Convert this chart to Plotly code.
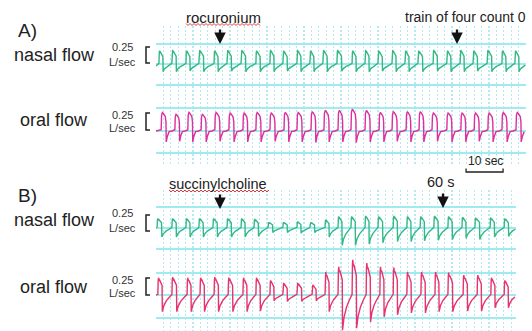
import plotly.graph_objects as go

W, H = 532, 331

# ---------------- data (time in s, flow in L/sec) ----------------
# Panel A
a_nasal_onset = [0.8, 4.3, 8.1, 11.6, 15.7, 19.2, 23.0, 27.0, 30.8, 34.3, 38.1, 41.6, 45.1, 48.9,
                 53.0, 56.5, 60.0, 63.8, 67.3, 70.8, 74.9, 78.6, 82.2, 85.7, 89.5, 93.5, 97.0]
a_nasal_peak = [0.21, 0.22, 0.21, 0.22, 0.21, 0.22, 0.22, 0.21, 0.22, 0.21, 0.22, 0.21, 0.22, 0.22,
                0.21, 0.22, 0.21, 0.22, 0.21, 0.21, 0.22, 0.21, 0.22, 0.21, 0.22, 0.21, 0.21]
a_nasal_trough = [-0.12, -0.12, -0.11, -0.12, -0.12, -0.11, -0.12, -0.12, -0.12, -0.11, -0.12, -0.12, -0.12, -0.11,
                  -0.12, -0.12, -0.11, -0.12, -0.12, -0.12, -0.11, -0.12, -0.12, -0.11, -0.12, -0.12, -0.12]

a_oral_onset = [1.4, 5.1, 8.6, 12.2, 15.9, 19.7, 23.5, 27.0, 30.8, 34.6, 38.1, 41.9, 45.4, 49.2,
                52.7, 56.5, 60.3, 63.8, 67.6, 71.1, 74.6, 78.6, 82.4, 86.0, 89.7, 93.5, 97.3]
a_oral_peak = [0.29, 0.26, 0.29, 0.26, 0.29, 0.28, 0.28, 0.29, 0.28, 0.29, 0.29, 0.30, 0.32, 0.32,
               0.34, 0.32, 0.29, 0.30, 0.30, 0.30, 0.28, 0.28, 0.28, 0.28, 0.28, 0.29, 0.29]
a_oral_trough = [-0.17, -0.16, -0.17, -0.17, -0.16, -0.17, -0.17, -0.17, -0.16, -0.17, -0.17, -0.18, -0.17, -0.17,
                 -0.18, -0.17, -0.17, -0.16, -0.17, -0.17, -0.16, -0.17, -0.17, -0.16, -0.17, -0.17, -0.17]

# Panel B
b_nasal_onset = [0.3, 4.3, 8.1, 11.6, 15.4, 19.2, 23.0, 26.5, 30.3, 34.3, 38.1, 41.6, 45.7,
                 49.2, 52.7, 56.5, 60.0, 64.1, 67.8, 71.4, 75.1, 78.9, 82.7, 86.2, 90.3, 94.1]
b_nasal_peak = [0.15, 0.15, 0.15, 0.15, 0.15, 0.15, 0.15, 0.14, 0.09, 0.09, 0.10, 0.09, 0.13,
                0.18, 0.18, 0.19, 0.18, 0.19, 0.18, 0.18, 0.19, 0.18, 0.17, 0.16, 0.16, 0.15]
b_nasal_trough = [-0.14, -0.14, -0.14, -0.14, -0.14, -0.14, -0.14, -0.13, -0.07, -0.07, -0.08, -0.07, -0.14,
                  -0.27, -0.27, -0.25, -0.23, -0.21, -0.21, -0.20, -0.19, -0.18, -0.16, -0.18, -0.14, -0.13]

b_oral_onset = [0.5, 4.3, 8.4, 11.9, 15.7, 19.5, 23.5, 27.0, 30.8, 34.3, 38.1, 42.2, 45.7,
                49.2, 53.0, 56.8, 60.5, 64.1, 67.8, 71.6, 75.4, 78.9, 83.0, 86.8, 90.5, 94.1]
b_oral_peak = [0.27, 0.28, 0.27, 0.27, 0.28, 0.27, 0.27, 0.27, 0.23, 0.19, 0.19, 0.16, 0.36,
               0.44, 0.55, 0.50, 0.44, 0.43, 0.36, 0.36, 0.36, 0.35, 0.31, 0.31, 0.27, 0.23]
b_oral_trough = [-0.26, -0.26, -0.26, -0.26, -0.26, -0.26, -0.26, -0.25, -0.09, -0.10, -0.10, -0.09, -0.26,
                 -0.55, -0.52, -0.42, -0.34, -0.31, -0.28, -0.28, -0.26, -0.26, -0.25, -0.25, -0.20, -0.20]

A_END, B_END = 100.0, 97.3

# ---------------- helpers ----------------
def px(x):
    return x / W


def py(y):
    return 1 - y / H


# breath shape: (fraction of period, reference, factor)
SAW = [(0.00, 'b', 0.01), (0.025, 'p', 0.85), (0.05, 'p', 1.0), (0.09, 'p', 0.82), (0.13, 'p', 0.86),
       (0.30, 'p', 0.55), (0.32, 'q', 1.0), (0.42, 'q', 0.65), (0.60, 'q', 0.35), (0.80, 'q', 0.15),
       (0.995, 'b', 0.01)]
PULSE = [(0.00, 'b', 0.02), (0.03, 'p', 0.85), (0.09, 'p', 1.0), (0.16, 'p', 0.95), (0.30, 'p', 0.78),
         (0.35, 'p', 0.5), (0.37, 'q', 1.0), (0.45, 'q', 0.5), (0.58, 'b', -0.01), (0.80, 'b', 0.0),
         (0.995, 'b', 0.02)]


def build(onsets, peaks, troughs, t_end, shape, start_val):
    xs, ys = [0.0], [start_val]
    n = len(onsets)
    for i in range(n):
        t0 = onsets[i]
        t1 = onsets[i + 1] if i + 1 < n else t0 + (t0 - onsets[i - 1])
        P = t1 - t0
        for f, ref, k in shape:
            t = t0 + f * P
            if t > t_end:
                break
            v = k * peaks[i] if ref == 'p' else (k * troughs[i] if ref == 'q' else k)
            xs.append(t)
            ys.append(v)
    return xs, ys


fig = go.Figure()

GRIDC = '#b6eaf2'
CYAN = '#9febef'
PXS = 3.7    # px per second
PXV = 64.0   # px per L/sec
layout_axes = {}

# background dotted grids first (subplots 1 and 2)
grid_common = dict(dtick=2, tick0=0, showgrid=True, gridcolor=GRIDC, griddash='2px,2px', gridwidth=1.3,
                   showticklabels=False, ticks='', zeroline=False, showline=False)
fig.add_trace(go.Scatter(x=[None], y=[None], xaxis='x', yaxis='y', showlegend=False, hoverinfo='skip'))
layout_axes['xaxis'] = dict(domain=[px(156), px(526)], range=[0, A_END], **grid_common)
layout_axes['yaxis'] = dict(domain=[py(165), py(26)], range=[0, 1], visible=False)
fig.add_trace(go.Scatter(x=[None], y=[None], xaxis='x2', yaxis='y2', showlegend=False, hoverinfo='skip'))
layout_axes['xaxis2'] = dict(domain=[px(156), px(156 + B_END * PXS)], range=[0, B_END], **grid_common)
layout_axes['yaxis2'] = dict(domain=[0, py(190)], range=[0, 1], visible=False)

traces = [
    # onset, peak, trough, end, shape, start, color, baseline px, gridlines(px offsets), panel
    (a_nasal_onset, a_nasal_peak, a_nasal_trough, A_END, SAW, -0.03, '#34b985', 64, (-21, 20), 'A'),
    (a_oral_onset, a_oral_peak, a_oral_trough, A_END, PULSE, 0.0, '#dd2f9d', 131, (-22, 23), 'A'),
    (b_nasal_onset, b_nasal_peak, b_nasal_trough, B_END, SAW, 0.0, '#34b985', 228, (-21, 21), 'B'),
    (b_oral_onset, b_oral_peak, b_oral_trough, B_END, SAW, 0.0, '#e8336c', 295, (-23, 22), 'B'),
]

for i, (on, pk, tr, tend, shape, sv, col, base, gl, panel) in enumerate(traces):
    k = i + 3
    xs, ys = build(on, pk, tr, tend, shape, sv)
    fig.add_trace(go.Scatter(x=xs, y=ys, mode='lines', line=dict(color=col, width=1.4),
                             xaxis=f'x{k}', yaxis=f'y{k}', showlegend=False, hoverinfo='skip'))
    xr = [0, A_END] if panel == 'A' else [0, B_END]
    xd = [px(156), px(526)] if panel == 'A' else [px(156), px(156 + B_END * PXS)]
    layout_axes[f'xaxis{k}'] = dict(domain=xd, range=xr, visible=False)
    layout_axes[f'yaxis{k}'] = dict(domain=[0, 1], range=[-(H - base) / PXV, base / PXV],
                                    tickmode='array', tickvals=[gl[0] / PXV, 0, gl[1] / PXV],
                                    showgrid=True, gridcolor=CYAN, gridwidth=2,
                                    showticklabels=False, ticks='', zeroline=False, showline=False)

FONT = 'Liberation Sans, Arial, sans-serif'
anns = []


def label(text, x, y, size, color='#222', **kw):
    anns.append(dict(text=text, x=px(x), y=py(y), xref='paper', yref='paper', showarrow=False,
                     xanchor='center', yanchor='middle', font=dict(family=FONT, size=size, color=color), **kw))


def arrow(x, ytip, length=16):
    anns.append(dict(text='', x=px(x), y=py(ytip), xref='paper', yref='paper', showarrow=True,
                     ax=0, ay=-length, arrowhead=2, arrowsize=1, arrowwidth=2.3, arrowcolor='#111',
                     standoff=0))


label('A)', 27, 30, 19)
label('B)', 27, 195, 19)
for yc in (55, 220):
    label('nasal flow', 54, yc, 18)
for yc in (120, 287):
    label('oral flow', 54, yc, 18)
for y1, y2 in ((47, 62), (115, 128), (213, 228), (280, 293)):
    label('0.25', 122, y1, 11, color='#333')
    label('L/sec', 122, y2, 11, color='#333')

label('rocuronium', 223, 17, 15)
label('train of four count 0', 465, 17, 14)
label('succinylcholine', 218, 184, 14.5)
label('60 s', 440, 182, 14.5)
label('10 sec', 485, 161, 12)

arrow(220, 44)
arrow(457, 44)
arrow(220, 209)
arrow(443, 208)

shapes = []
# brackets
for y0, y1 in ((47, 63), (113, 130), (215, 231), (278, 295)):
    path = f'M {px(150)},{py(y0)} L {px(146)},{py(y0)} L {px(146)},{py(y1)} L {px(150)},{py(y1)}'
    shapes.append(dict(type='path', path=path, xref='paper', yref='paper',
                       line=dict(color='#222', width=1.5)))

# 10 sec scale bar (A time axis)
shapes.append(dict(type='path', xref='x4', yref='paper',
                   path=f'M 83.8,{py(168.5)} L 83.8,{py(172)} L 93.8,{py(172)} L 93.8,{py(168.5)}',
                   line=dict(color='#222', width=1.3)))


def squiggle(x0, x1, y):
    pts = []
    x = x0
    up = True
    while x <= x1:
        pts.append(f'{px(x)},{py(y - 1 if up else y + 1)}')
        up = not up
        x += 2
    return 'M ' + ' L '.join(pts)


shapes.append(dict(type='path', path=squiggle(186, 260, 24.5), xref='paper', yref='paper',
                   line=dict(color='#e03a3a', width=1)))
shapes.append(dict(type='path', path=squiggle(169, 269, 191), xref='paper', yref='paper',
                   line=dict(color='#e03a3a', width=1)))

fig.update_layout(width=W, height=H, margin=dict(l=0, r=0, t=0, b=0, pad=0),
                  paper_bgcolor='white', plot_bgcolor='rgba(0,0,0,0)',
                  annotations=anns, shapes=shapes, showlegend=False, **layout_axes)

fig.write_html('out.html', config={'displayModeBar': False, 'staticPlot': True},
               post_script="document.body.style.margin='0';")
